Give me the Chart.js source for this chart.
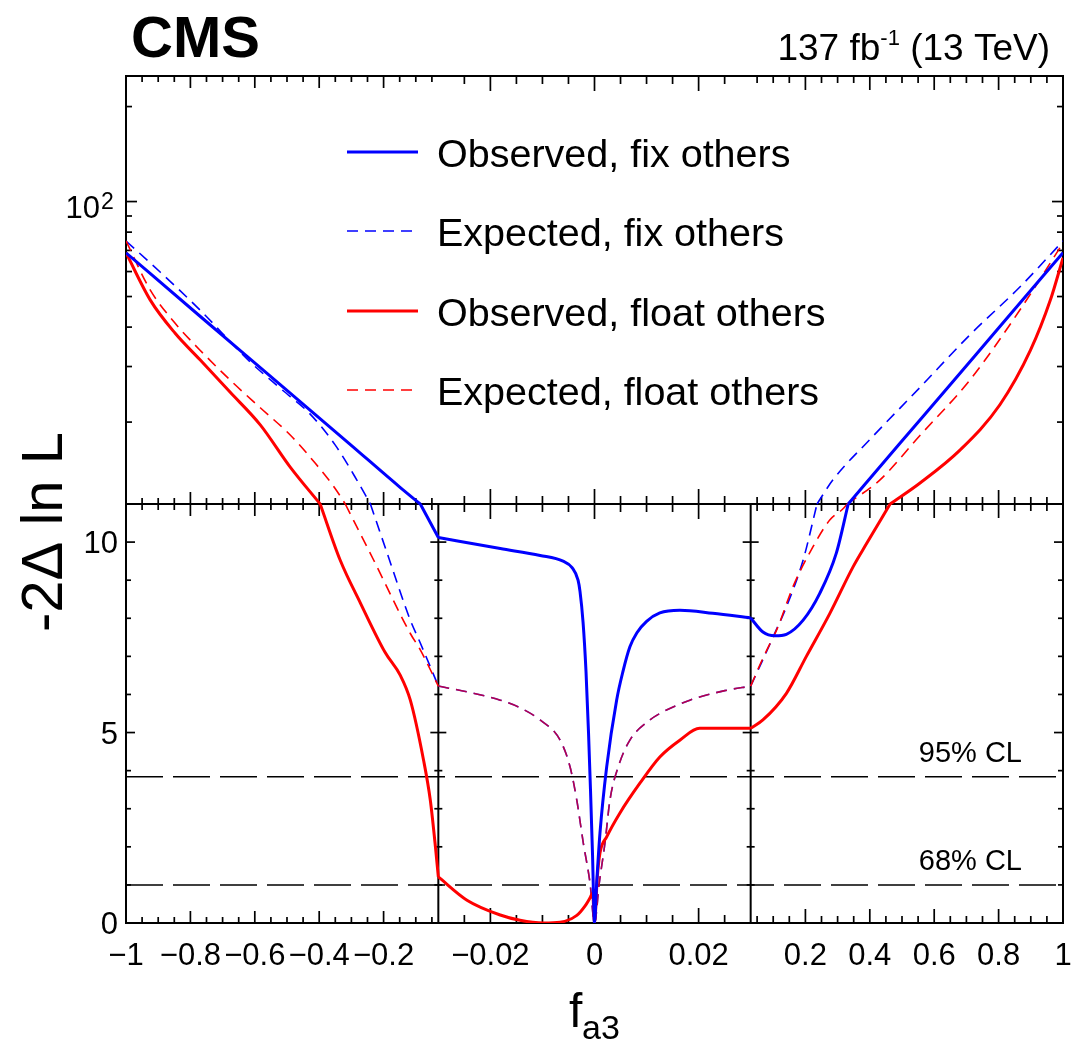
<!DOCTYPE html>
<html>
<head>
<meta charset="utf-8">
<script src="https://cdn.jsdelivr.net/npm/chart.js@4.4.1/dist/chart.umd.min.js"></script>
<style>
html,body{margin:0;padding:0;background:#fff;}
canvas{display:block;}
</style>
</head>
<body>
<canvas id="c" width="1072" height="1044"></canvas>
<script>
// ---------------- data (f_a3 , -2 Delta ln L) ----------------
const obsFixX = [-1.0, -0.770, -0.521, -0.304, -0.148, -0.086, -0.030,
  -0.0181, -0.01045, -0.00604, -0.00431, -0.00316, -0.00278, -0.00220, -0.00163, -0.00115, -0.00077, -0.00038, 0.0,
  0.00042, 0.00105, 0.00234, 0.00425, 0.00546, 0.0068, 0.00815, 0.01001, 0.01255, 0.01639, 0.02272, 0.030,
  0.068, 0.105, 0.141, 0.193, 0.245, 0.296, 0.333, 0.493, 0.649, 0.804, 1.0];
const obsFixY = [68.8, 43.3, 26.3, 17.0, 12.4, 11.0, 10.12,
  9.83, 9.65, 9.5, 9.33, 9.0, 8.7, 7.9, 6.6, 5.0, 3.5, 1.8, 0.0,
  1.05, 2.36, 4.1, 5.85, 6.6, 7.25, 7.62, 7.92, 8.14, 8.21, 8.13, 8.01,
  7.64, 7.54, 7.58, 7.95, 8.66, 9.71, 11.0, 17.1, 26.2, 40.2, 68.8];

const expFixLeftX = [-1.0, -0.894, -0.770, -0.614, -0.521, -0.428, -0.350, -0.283, -0.241, -0.189, -0.117, -0.086];
const expFixLeftY = [75.0, 59.8, 45.3, 31.0, 25.6, 21.2, 16.9, 13.1, 11.0, 9.71, 7.95, 7.35];
const expFloatLeftX = [-1.0, -0.925, -0.848, -0.770, -0.677, -0.583, -0.490, -0.412, -0.350, -0.319, -0.231, -0.117, -0.086];
const expFloatLeftY = [75.0, 52.5, 41.2, 33.8, 27.2, 22.2, 18.2, 14.8, 12.3, 11.0, 9.53, 7.6, 7.17];

// central region: both expected curves coincide
const expMidX = [-0.030, -0.0239, -0.0181, -0.0143, -0.01045, -0.0066, -0.0047, -0.00341, -0.00215, -0.00086, 0.0,
  0.00092, 0.00201, 0.00297, 0.00456, 0.0068, 0.01064, 0.01255, 0.01831, 0.02502, 0.030];
const expMidY = [6.22, 6.05, 5.85, 5.65, 5.33, 4.8, 4.1, 3.23, 2.1, 1.05, 0.0,
  1.05, 2.1, 3.23, 4.1, 4.8, 5.33, 5.5, 5.85, 6.1, 6.22];

const expFixRightX = [0.058, 0.105, 0.141, 0.193, 0.236, 0.285, 0.400, 0.555, 0.711, 0.866, 1.0];
const expFixRightY = [6.73, 7.61, 8.3, 9.53, 11.0, 13.1, 17.6, 25.7, 37.8, 53.6, 75.0];
const expFloatRightX = [0.068, 0.115, 0.1615, 0.2237, 0.2756, 0.316, 0.330, 0.431, 0.555, 0.711, 0.866, 1.0];
const expFloatRightY = [6.95, 7.78, 8.83, 9.88, 10.58, 10.87, 11.0, 13.1, 18.1, 27.2, 45.3, 73.9];

const obsFloatX = [-1.0, -0.925, -0.848, -0.770, -0.677, -0.583, -0.490, -0.397, -0.335, -0.272, -0.195, -0.148, -0.117, -0.076, -0.055, -0.039, -0.030,
  -0.0245, -0.0181, -0.0143, -0.0098, -0.0066, -0.0034, -0.0018, -0.00086, -0.00035, 0.0,
  0.00054, 0.00105, 0.00234, 0.00489, 0.00872, 0.01255, 0.01639, 0.0202, 0.030,
  0.068, 0.141, 0.203, 0.276, 0.348, 0.390, 0.463, 0.555, 0.680, 0.804, 0.899, 0.961, 1.0];
const obsFloatY = [68.8, 48.8, 38.3, 31.5, 24.9, 19.6, 14.4, 11.0, 9.53, 8.4, 7.1, 6.5, 5.85, 4.28, 3.23, 2.0, 1.21,
  0.6, 0.21, 0.07, 0.0, 0.02, 0.2, 0.45, 0.66, 0.79, 0.0,
  1.21, 1.84, 2.26, 2.89, 3.67, 4.36, 4.8, 5.11, 5.11,
  5.33, 6.03, 7.0, 8.13, 9.35, 9.96, 11.0, 12.8, 16.3, 22.7, 33.8, 48.8, 66.3];

const clX = [-1, 1];
const cl95Y = [3.84, 3.84];
const cl68Y = [1.0, 1.0];
const clLabels = ['95% CL', '68% CL'];

const seriesLabels = ['Observed, fix others', 'Expected, fix others', 'Observed, float others', 'Expected, float others'];

// axis definition
const xEdges = [-1, -0.03, 0.03, 1];          // three linear x segments
const xTickValues = [-1, -0.8, -0.6, -0.4, -0.2, -0.02, 0, 0.02, 0.2, 0.4, 0.6, 0.8, 1];
const xTickLabels = ['\u22121', '\u22120.8', '\u22120.6', '\u22120.4', '\u22120.2', '\u22120.02', '0', '0.02', '0.2', '0.4', '0.6', '0.8', '1'];
const ySplit = 11, yMax = 250;                // linear 0..11 below, log 11..250 above
const yLowTickValues = [0, 5, 10];
const yLowTickLabels = ['0', '5', '10'];
const yLogTickValues = [100];
const yLogMinor = [20, 30, 40, 50, 60, 70, 80, 90, 200];

// ---------------- custom scales ----------------
const LOW_FRAC = 419 / 847;
class SegXScale extends Chart.LinearScale {
  static id = 'segx';
  static defaults = {};
  segDecimal(v) {
    const n = xEdges.length - 1;
    let i = 0;
    while (i < n - 1 && v > xEdges[i + 1]) i++;
    return (i + (v - xEdges[i]) / (xEdges[i + 1] - xEdges[i])) / n;
  }
  getPixelForValue(v) { return v === null ? NaN : this.getPixelForDecimal(this.segDecimal(v)); }
  getValueForPixel(p) {
    const n = xEdges.length - 1;
    const d = this.getDecimalForPixel(p) * n;
    const i = Math.min(n - 1, Math.max(0, Math.floor(d)));
    return xEdges[i] + (d - i) * (xEdges[i + 1] - xEdges[i]);
  }
}
class SegYScale extends Chart.LinearScale {
  static id = 'segy';
  static defaults = {};
  segDecimal(v) {
    if (v <= ySplit) return Math.max(v, 0) / ySplit * LOW_FRAC;
    return LOW_FRAC + (Math.log10(v) - Math.log10(ySplit)) / (Math.log10(yMax) - Math.log10(ySplit)) * (1 - LOW_FRAC);
  }
  getPixelForValue(v) { return v === null ? NaN : this.getPixelForDecimal(this.segDecimal(v)); }
  getValueForPixel(p) {
    const d = this.getDecimalForPixel(p);
    if (d <= LOW_FRAC) return d / LOW_FRAC * ySplit;
    const t = (d - LOW_FRAC) / (1 - LOW_FRAC);
    return Math.pow(10, Math.log10(ySplit) + t * (Math.log10(yMax) - Math.log10(ySplit)));
  }
}
Chart.register(SegXScale, SegYScale);

// ---------------- helpers ----------------
const FONT = '"Liberation Sans", Arial, Helvetica, sans-serif';
const innerEdges = xEdges.slice(1, -1);
// build points; at panel boundaries the spline is restarted so the kink stays sharp
function pts(xs, ys) {
  const out = [];
  for (let i = 0; i < xs.length; i++) {
    out.push({x: xs[i], y: ys[i]});
    const kink = i > 0 && i < xs.length - 1 && (innerEdges.includes(xs[i]) || ys[i] === ySplit);
    if (kink) { out.push({x: xs[i], y: null}); out.push({x: xs[i], y: ys[i]}); }
  }
  return out;
}
const BLUE = '#0000ff', RED = '#ff0000';
const DASH = [11, 7];
// where the two expected curves coincide the red dashes blend with the blue ones underneath
const inMiddle = c => c.p0.parsed.x >= innerEdges[0] && c.p1.parsed.x <= innerEdges[1];

// tick list along x (minor ticks every 0.05 / 0.005 / 0.05)
const xTickList = [];
for (let k = 1; k < 20; k++) xTickList.push({v: -1 + 0.05 * k, major: k % 4 === 0, s: 0});
for (let k = -5; k <= 5; k++) xTickList.push({v: 0.005 * k, major: k % 4 === 0, s: 1});
for (let k = 1; k < 20; k++) xTickList.push({v: 0.05 * k, major: k % 4 === 0, s: 2});
const TICK_X_MAJ = [12, 15, 14], TICK_X_MIN = [6, 8, 7];

const decor = {
  id: 'decor',
  beforeDraw(chart) {
    const c = chart.ctx;
    c.save(); c.fillStyle = '#fff'; c.fillRect(0, 0, chart.width, chart.height); c.restore();
  },
  beforeDatasetsDraw(chart) {
    const {ctx, chartArea: a, scales: {x, y}} = chart;
    const ys = y.getPixelForValue(ySplit);
    const xs = innerEdges.map(v => x.getPixelForValue(v));
    const seg = (x1, y1, x2, y2) => { ctx.beginPath(); ctx.moveTo(x1, y1); ctx.lineTo(x2, y2); ctx.stroke(); };
    ctx.save();
    ctx.strokeStyle = '#000';
    ctx.lineWidth = 1.7;
    for (const t of xTickList) {
      const px = x.getPixelForValue(t.v);
      const L = t.major ? TICK_X_MAJ[t.s] : TICK_X_MIN[t.s];
      seg(px, a.bottom, px, a.bottom - L);
      seg(px, a.top, px, a.top + L);
      seg(px, ys - L, px, ys + L);
    }
    for (let v = 1; v <= 10; v++) {
      const py = y.getPixelForValue(v);
      const major = v % 5 === 0;
      const L = major ? 9 : 5, Ls = major ? 8 : 4;
      seg(a.left, py, a.left + L, py);
      seg(a.right, py, a.right - L, py);
      xs.forEach(px => seg(px - Ls, py, px + Ls, py));
    }
    for (const v of yLogMinor.concat(yLogTickValues)) {
      const py = y.getPixelForValue(v);
      const L = yLogTickValues.includes(v) ? 11 : 6;
      seg(a.left, py, a.left + L, py);
      seg(a.right, py, a.right - L, py);
    }
    ctx.lineWidth = 2;
    ctx.strokeRect(a.left, a.top, a.right - a.left, a.bottom - a.top);
    seg(a.left, ys, a.right, ys);
    xs.forEach(px => seg(px, ys, px, a.bottom));
    ctx.restore();
  },
  afterDraw(chart) {
    const {ctx, scales: {x, y}} = chart;
    ctx.save();
    ctx.fillStyle = '#000';
    // x tick labels
    ctx.font = '31px ' + FONT;
    ctx.textAlign = 'center';
    ctx.textBaseline = 'alphabetic';
    xTickValues.forEach((v, i) => ctx.fillText(xTickLabels[i], x.getPixelForValue(v), 965));
    // y tick labels
    ctx.textAlign = 'right';
    yLowTickValues.forEach((v, i) => ctx.fillText(yLowTickLabels[i], 118, y.getPixelForValue(v) + 11));
    yLogTickValues.forEach(v => {
      const py = y.getPixelForValue(v);
      ctx.font = '31px ' + FONT; ctx.textAlign = 'right';
      ctx.fillText('10', 100, py + 16);
      ctx.font = '23px ' + FONT; ctx.textAlign = 'left';
      ctx.fillText(String(Math.round(Math.log10(v))), 101, py + 7);
    });
    // axis titles
    ctx.font = '48px ' + FONT; ctx.textAlign = 'left';
    ctx.fillText('f', 569, 1027);
    ctx.font = '34px ' + FONT;
    ctx.fillText('a3', 582, 1039);
    ctx.save();
    ctx.translate(62, 532); ctx.rotate(-Math.PI / 2);
    ctx.font = '58px ' + FONT; ctx.textAlign = 'center';
    ctx.fillText('-2\u0394 ln L', 0, 0);
    ctx.restore();
    // CMS label and luminosity
    ctx.font = 'bold 58px ' + FONT; ctx.textAlign = 'left';
    ctx.fillText('CMS', 131, 57);
    const p1 = '137 fb', p2 = '-1', p3 = ' (13 TeV)';
    ctx.font = '37px ' + FONT; const w1 = ctx.measureText(p1).width, w3 = ctx.measureText(p3).width;
    ctx.font = '22px ' + FONT; const w2 = ctx.measureText(p2).width;
    let sx = 1050 - (w1 + w2 + w3);
    ctx.font = '37px ' + FONT; ctx.fillText(p1, sx, 60); sx += w1;
    ctx.font = '22px ' + FONT; ctx.fillText(p2, sx, 45); sx += w2;
    ctx.font = '37px ' + FONT; ctx.fillText(p3, sx, 60);
    // CL labels
    ctx.font = '29px ' + FONT; ctx.textAlign = 'right';
    ctx.fillText(clLabels[0], 1022, y.getPixelForValue(cl95Y[0]) - 15);
    ctx.fillText(clLabels[1], 1022, y.getPixelForValue(cl68Y[0]) - 15);
    // legend
    const legY = [152, 231, 311, 390];
    ctx.font = '39.5px ' + FONT; ctx.textAlign = 'left';
    for (let i = 0; i < 4; i++) {
      const ds = chart.data.datasets[i];
      ctx.save();
      ctx.strokeStyle = ds.borderColor; ctx.lineWidth = ds.borderWidth;
      ctx.setLineDash(ds.borderDash || []);
      ctx.beginPath(); ctx.moveTo(347, legY[i]); ctx.lineTo(418, legY[i]); ctx.stroke();
      ctx.restore();
      ctx.fillText(ds.label, 437, legY[i] + 15);
    }
    ctx.restore();
  }
};

new Chart(document.getElementById('c'), {
  type: 'scatter',
  data: {
    datasets: [
      {label: seriesLabels[0], data: pts(obsFixX, obsFixY), borderColor: BLUE, borderWidth: 3, order: 1},
      {label: seriesLabels[1], data: pts(expFixLeftX.concat(expMidX, expFixRightX), expFixLeftY.concat(expMidY, expFixRightY)), borderColor: BLUE, borderWidth: 1.6, borderDash: DASH, order: 4},
      {label: seriesLabels[2], data: pts(obsFloatX, obsFloatY), borderColor: RED, borderWidth: 3, order: 2},
      {label: seriesLabels[3], data: pts(expFloatLeftX.concat(expMidX, expFloatRightX), expFloatLeftY.concat(expMidY, expFloatRightY)), borderColor: RED, borderWidth: 1.6, borderDash: DASH, order: 3,
        segment: {borderColor: c => inMiddle(c) ? 'rgba(255,0,0,0.7)' : undefined}},
      {label: clLabels[0], data: pts(clX, cl95Y), borderColor: '#000', borderWidth: 1.5, borderDash: [37, 10], cubicInterpolationMode: 'default', tension: 0, order: 5},
      {label: clLabels[1], data: pts(clX, cl68Y), borderColor: '#000', borderWidth: 1.5, borderDash: [37, 10], cubicInterpolationMode: 'default', tension: 0, order: 5}
    ].map(d => Object.assign({showLine: true, spanGaps: false, pointRadius: 0, fill: false, cubicInterpolationMode: 'monotone', borderCapStyle: 'butt'}, d))
  },
  options: {
    responsive: false,
    animation: false,
    devicePixelRatio: 1,
    events: [],
    layout: {padding: {left: 126, right: 9, top: 76, bottom: 121}},
    plugins: {legend: {display: false}, tooltip: {enabled: false}},
    scales: {
      x: {type: 'segx', display: false, min: -1, max: 1},
      y: {type: 'segy', display: false, min: 0, max: 250}
    }
  },
  plugins: [decor]
});
</script>
</body>
</html>
